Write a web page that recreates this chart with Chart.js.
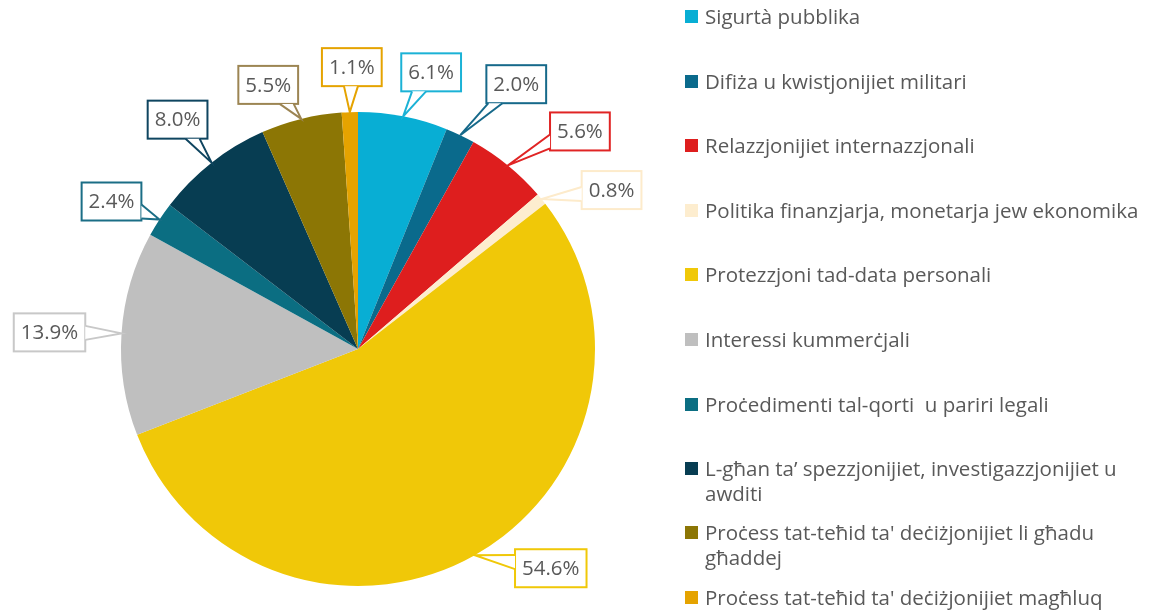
<!DOCTYPE html>
<html>
<head>
<meta charset="utf-8">
<script src="https://cdn.jsdelivr.net/npm/chart.js@4"></script>
<style>
  html, body { margin: 0; padding: 0; background: #fff; }
  #wrap { position: relative; width: 1156px; height: 612px; }
  #chart { position: absolute; left: 0; top: 0; }
  #legend { position: absolute; left: 685px; top: 0; width: 470px; font-family: "Open Sans", sans-serif; font-size: 20.5px; color: #595959; }
  .item { position: absolute; left: 0; width: 470px; line-height: 25px; padding-left: 20px; box-sizing: border-box; }
  .item span.box { position: absolute; left: 0; top: 6px; width: 13px; height: 13px; }
</style>
</head>
<body>
<div id="wrap">
  <canvas id="chart" width="1156" height="612"></canvas>
  <div id="legend"></div>
</div>
<script>
// categories
const categories = [
  'Sigurtà pubblika',
  'Difiża u kwistjonijiet militari',
  'Relazzjonijiet internazzjonali',
  'Politika finanzjarja, monetarja jew ekonomika',
  'Protezzjoni tad-data personali',
  'Interessi kummerċjali',
  'Proċedimenti tal-qorti\u00a0 u pariri legali',
  'L-għan ta’ spezzjonijiet, investigazzjonijiet u awditi',
  "Proċess tat-teħid ta' deċiżjonijiet li għadu għaddej",
  "Proċess tat-teħid ta' deċiżjonijiet magħluq"
];
// share of each category (%)
const shares = [6.1, 2.0, 5.6, 0.8, 54.6, 13.9, 2.4, 8.0, 5.5, 1.1];

const colours = ['#08AED4', '#0A6A8C', '#DE1E1E', '#FDEDCF', '#F0C808',
                 '#BFBFBF', '#0B6E82', '#073D52', '#8C7605', '#E5A300'];
const borderColours = ['#1BB2D6', '#16698A', '#E02424', '#FDEBCB', '#F0C808',
                       '#C8C8C8', '#1B6E86', '#0F4560', '#9C8553', '#E5A300'];
// callout box offsets from slice edge (dx, dy)
const boxOffsets = [[28, -44], [56, -51], [72, -34], [70, -9], [76, 13],
                    [-72, -1], [-48, -18], [-34, -43], [-33, -34], [2, -45]];

// legend rows (top of each entry)
const legendTops = [4, 69, 133, 198, 262, 327, 392, 456, 520, 585];

const legend = document.getElementById('legend');
categories.forEach((c, i) => {
  const d = document.createElement('div');
  d.className = 'item';
  d.style.top = legendTops[i] + 'px';
  d.innerHTML = '<span class="box" style="background:' + colours[i] + '"></span>' + c;
  legend.appendChild(d);
});

// callout labels
const calloutPlugin = {
  id: 'callouts',
  afterDatasetsDraw(chart) {
    const ctx = chart.ctx;
    const meta = chart.getDatasetMeta(0);
    ctx.save();
    ctx.font = '20.5px "Open Sans", sans-serif';
    ctx.textAlign = 'center';
    ctx.textBaseline = 'middle';
    meta.data.forEach((arc, i) => {
      const mid = (arc.startAngle + arc.endAngle) / 2;
      const ax = arc.x + Math.cos(mid) * arc.outerRadius;
      const ay = arc.y + Math.sin(mid) * arc.outerRadius;
      const txt = shares[i].toFixed(1) + '%';
      const w = ctx.measureText(txt).width + 14;
      const h = 38;
      const cx = ax + boxOffsets[i][0], cy = ay + boxOffsets[i][1];
      const x0 = cx - w / 2, y0 = cy - h / 2, x1 = cx + w / 2, y1 = cy + h / 2;
      // where the line to the anchor leaves the box
      const dx = ax - cx, dy = ay - cy;
      const t = Math.min(Math.abs((w / 2) / (dx || 1e-6)), Math.abs((h / 2) / (dy || 1e-6)));
      let px = cx + dx * t, py = cy + dy * t;
      let b1, b2;
      const half = 7;
      if (Math.abs(px - x0) < 0.5 || Math.abs(px - x1) < 0.5) {
        py = Math.max(y0 + half + 2, Math.min(y1 - half - 2, py));
        b1 = [px, py - half]; b2 = [px, py + half];
      } else {
        px = Math.max(x0 + half + 2, Math.min(x1 - half - 2, px));
        b1 = [px - half, py]; b2 = [px + half, py];
      }
      ctx.lineWidth = 2;
      ctx.strokeStyle = borderColours[i];
      ctx.fillStyle = '#fff';
      ctx.fillRect(x0, y0, w, h);
      ctx.strokeRect(x0, y0, w, h);
      ctx.beginPath();
      ctx.moveTo(b1[0], b1[1]);
      ctx.lineTo(ax, ay);
      ctx.lineTo(b2[0], b2[1]);
      ctx.closePath();
      ctx.fill();
      ctx.beginPath();
      ctx.moveTo(b1[0], b1[1]);
      ctx.lineTo(ax, ay);
      ctx.lineTo(b2[0], b2[1]);
      ctx.stroke();
      ctx.fillStyle = '#595959';
      ctx.fillText(txt, cx, cy + 1);
    });
    ctx.restore();
  }
};

new Chart(document.getElementById('chart'), {
  type: 'pie',
  data: {
    labels: categories,
    datasets: [{
      data: shares,
      backgroundColor: colours,
      borderColor: '#fff',
      borderWidth: 0
    }]
  },
  options: {
    responsive: false,
    animation: false,
    layout: { padding: { top: 112, bottom: 26, left: 121, right: 561 } },
    plugins: { legend: { display: false }, tooltip: { enabled: false } }
  },
  plugins: [calloutPlugin]
});
</script>
</body>
</html>
